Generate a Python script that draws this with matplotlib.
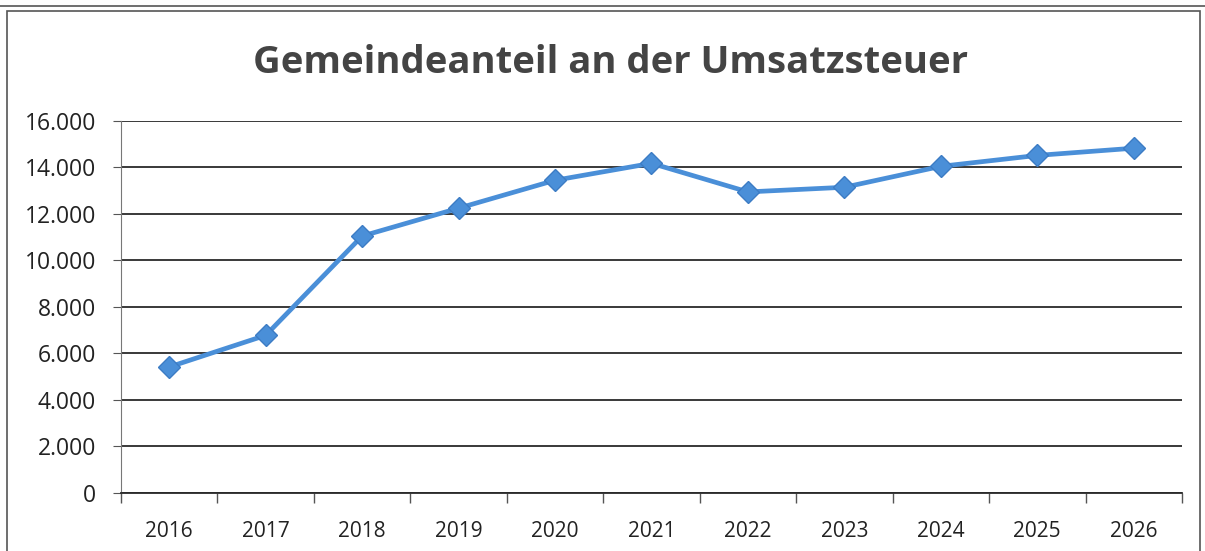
# Gemeindeanteil an der Umsatzsteuer - Linienchart im Excel-Stil
import matplotlib
matplotlib.use('Agg')
import matplotlib.pyplot as plt
from matplotlib.ticker import FuncFormatter
from matplotlib.patches import Rectangle
from matplotlib.lines import Line2D

# Daten
jahre = ['2016', '2017', '2018', '2019', '2020', '2021', '2022', '2023', '2024', '2025', '2026']
werte = [5420, 6780, 11050, 12250, 13450, 14180, 12950, 13150, 14050, 14520, 14830]
y_ticks = [0, 2000, 4000, 6000, 8000, 10000, 12000, 14000, 16000]

plt.rcParams['font.family'] = ['Open Sans', 'DejaVu Sans']

fig = plt.figure(figsize=(12.05, 5.51), dpi=100)
ax = fig.add_axes([0.1004, 0.1053, 0.8805, 0.6751])

x = list(range(len(jahre)))
ax.plot(x, werte, color='#4a8fd8', lw=3.4, marker='D', markersize=11,
        markerfacecolor='#4a8fd8', markeredgecolor='#3c7cc4', zorder=3)

ax.set_xlim(-0.5, len(jahre) - 0.5)
ax.set_ylim(0, 16000)
ax.set_yticks(y_ticks)
ax.yaxis.set_major_formatter(FuncFormatter(lambda v, p: f'{int(v):,}'.replace(',', '.')))
ax.grid(axis='y', color='#2a2a2a', lw=1.3)
ax.set_axisbelow(True)

# Kategorien-Ticks zwischen den Jahren wie bei Excel
ax.set_xticks([i - 0.5 for i in range(len(jahre) + 1)])
ax.set_xticklabels([])
ax.set_xticks(x, minor=True)
ax.set_xticklabels(jahre, minor=True)
ax.tick_params(axis='x', which='major', length=7, direction='out', color='#555555', width=1)
ax.tick_params(axis='x', which='minor', length=0, pad=20, labelsize=15, labelcolor='#222222')
ax.tick_params(axis='y', length=6, direction='out', color='#555555', labelsize=16.5,
               labelcolor='#222222', pad=12)

for s in ['top', 'right']:
    ax.spines[s].set_visible(False)
ax.spines['left'].set_color('#777777')
ax.spines['bottom'].set_color('#2a2a2a')
ax.spines['bottom'].set_linewidth(1.3)

fig.text(0.507, 0.885, 'Gemeindeanteil an der Umsatzsteuer', ha='center', va='center',
         fontsize=27.5, fontweight='bold', color='#444444')

# Rahmen des gescannten Diagramms
fig.add_artist(Rectangle((0.006, -0.01), 0.99, 0.99, transform=fig.transFigure,
                         fill=False, edgecolor='#555555', lw=1.2))
fig.add_artist(Line2D([0, 1], [0.99, 0.99], transform=fig.transFigure, color='#555555', lw=1.2))

fig.savefig('out.png', dpi=100)
